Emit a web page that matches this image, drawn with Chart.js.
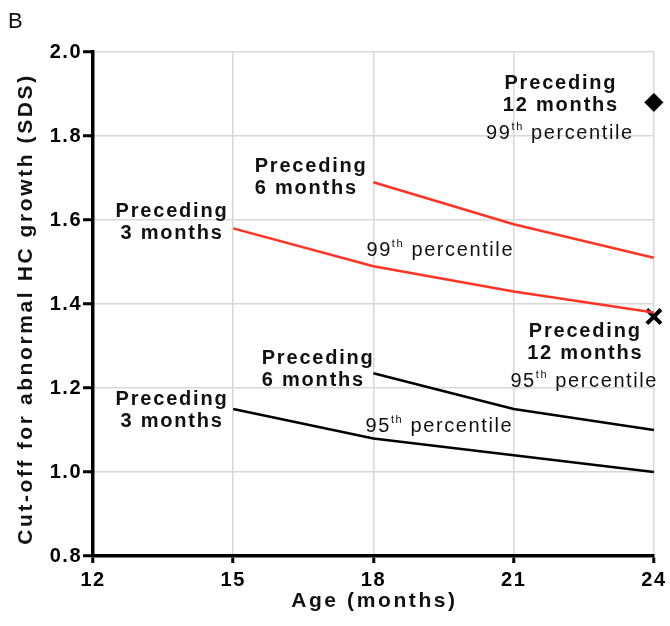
<!DOCTYPE html>
<html>
<head>
<meta charset="utf-8">
<script src="https://cdn.jsdelivr.net/npm/chart.js@4.4.1/dist/chart.umd.min.js"></script>
<style>
  html, body { margin: 0; padding: 0; background: #fff; }
  #wrap { position: relative; width: 670px; height: 626px; }
</style>
</head>
<body>
<div id="wrap"><canvas id="cutoffChart"></canvas></div>
<script>
// age points (months) and cut-off values in SDS
const ageMonths = [15, 18, 21, 24];
const xTicks = [12, 15, 18, 21, 24];
const yTicks = [0.8, 1.0, 1.2, 1.4, 1.6, 1.8, 2.0];

const p99Prev3 = [1.58, 1.49, 1.43, 1.38];
const p99Prev6 = [null, 1.69, 1.59, 1.51];
const p99Prev12 = [null, null, null, 1.88];
const p95Prev3 = [1.15, 1.08, 1.04, 1.00];
const p95Prev6 = [null, 1.235, 1.15, 1.10];
const p95Prev12 = [null, null, null, 1.37];

// text blocks placed in data units
const notes = [
  { x: 13.67, y: 1.607, align: 'center', head: ['Preceding', '3 months'] },
  { x: 15.46, y: 1.714, align: 'left', head: ['Preceding', '6 months'] },
  { x: 17.85, y: 1.514, align: 'left', pct: '99' },
  { x: 21.99, y: 1.912, align: 'center', head: ['Preceding', '12 months'], pct: '99' },
  { x: 13.67, y: 1.160, align: 'center', head: ['Preceding', '3 months'] },
  { x: 15.61, y: 1.257, align: 'left', head: ['Preceding', '6 months'] },
  { x: 17.83, y: 1.095, align: 'left', pct: '95' },
  { x: 22.51, y: 1.321, align: 'center', head: ['Preceding', '12 months'], pct: '95' }
];

const FAMILY = '"Liberation Sans", Arial, sans-serif';
const RED = 'rgb(255, 52, 36)';

function pts(vals) {
  return ageMonths.map((a, i) => ({ x: a, y: vals[i] })).filter(p => p.y !== null);
}

function drawPct(ctx, num, px, py, align) {
  const big = '20px ' + FAMILY;
  const small = '11px ' + FAMILY;
  ctx.letterSpacing = '1.6px';
  ctx.font = big;
  const w1 = ctx.measureText(num).width;
  const w3 = ctx.measureText(' percentile').width;
  ctx.font = small;
  const w2 = ctx.measureText('th').width;
  let sx = align === 'center' ? px - (w1 + w2 + w3) / 2 : px;
  ctx.textAlign = 'left';
  ctx.font = big;
  ctx.fillText(num, sx, py);
  ctx.font = small;
  ctx.fillText('th', sx + w1, py - 9);
  ctx.font = big;
  ctx.fillText(' percentile', sx + w1 + w2, py);
}

const textPlugin = {
  id: 'figureText',
  beforeDraw(chart) {
    chart.ctx.letterSpacing = '1.5px';
  },
  afterDraw(chart) {
    const { ctx, chartArea, scales } = chart;
    ctx.save();
    ctx.fillStyle = '#111';
    ctx.textBaseline = 'alphabetic';

    ctx.letterSpacing = '0px';
    ctx.font = '22px ' + FAMILY;
    ctx.textAlign = 'left';
    ctx.fillText('B', 8, 28);

    // axis titles
    ctx.letterSpacing = '2.6px';
    ctx.font = 'bold 21px ' + FAMILY;
    ctx.textAlign = 'center';
    ctx.fillText('Age (months)', (chartArea.left + chartArea.right) / 2 + 1, 607);
    ctx.save();
    ctx.translate(32, 310);
    ctx.rotate(-Math.PI / 2);
    ctx.fillText('Cut-off for abnormal HC growth (SDS)', 1, 0);
    ctx.restore();

    notes.forEach(n => {
      const px = scales.x.getPixelForValue(n.x);
      let py = scales.y.getPixelForValue(n.y);
      if (n.head) {
        ctx.font = 'bold 20px ' + FAMILY;
        ctx.letterSpacing = '1.8px';
        ctx.textAlign = n.align;
        const off = n.align === 'center' ? 1 : 0;
        n.head.forEach((line, i) => ctx.fillText(line, px + off, py + i * 22));
        py += 22 + 28;
      }
      if (n.pct) drawPct(ctx, n.pct, px, py, n.align);
    });
    ctx.restore();
  }
};

new Chart(document.getElementById('cutoffChart'), {
  type: 'line',
  data: {
    datasets: [
      { data: pts(p99Prev3), borderColor: RED, borderWidth: 2.5, pointRadius: 0 },
      { data: pts(p99Prev6), borderColor: RED, borderWidth: 2.5, pointRadius: 0 },
      { data: pts(p95Prev3), borderColor: '#000', borderWidth: 2.5, pointRadius: 0 },
      { data: pts(p95Prev6), borderColor: '#000', borderWidth: 2.5, pointRadius: 0 },
      {
        data: pts(p99Prev12), showLine: false, clip: false,
        pointStyle: 'rectRot', pointRadius: 9, pointBackgroundColor: '#000',
        pointBorderColor: '#000', pointBorderWidth: 1
      },
      {
        data: pts(p95Prev12), showLine: false, clip: false,
        pointStyle: 'crossRot', pointRadius: 10, pointBorderColor: '#000',
        pointBorderWidth: 4
      }
    ]
  },
  options: {
    responsive: true,
    maintainAspectRatio: false,
    animation: false,
    layout: { padding: { top: 52, right: 15, left: 0, bottom: 0 } },
    plugins: { legend: { display: false }, tooltip: { enabled: false } },
    scales: {
      x: {
        type: 'linear',
        min: 12,
        max: 24,
        afterBuildTicks: s => { s.ticks = xTicks.map(v => ({ value: v })); },
        afterFit: s => { s.height = 70; },
        grid: { color: 'rgb(216,216,216)', lineWidth: 1.5, tickColor: '#000', tickWidth: 3, tickLength: 7 },
        border: { color: '#000', width: 3.5 },
        ticks: {
          color: '#000', padding: 5, maxRotation: 0,
          font: { family: FAMILY, size: 20, weight: 'bold' }
        }
      },
      y: {
        min: 0.8,
        max: 2.0,
        afterBuildTicks: s => { s.ticks = yTicks.map(v => ({ value: v })); },
        afterFit: s => { s.width = 93; },
        grid: { color: 'rgb(216,216,216)', lineWidth: 1.5, tickColor: '#000', tickWidth: 3, tickLength: 10 },
        border: { color: '#000', width: 3.5 },
        ticks: {
          color: '#000', padding: 1,
          font: { family: FAMILY, size: 20, weight: 'bold' },
          callback: v => v.toFixed(1)
        }
      }
    }
  },
  plugins: [textPlugin]
});
</script>
</body>
</html>
